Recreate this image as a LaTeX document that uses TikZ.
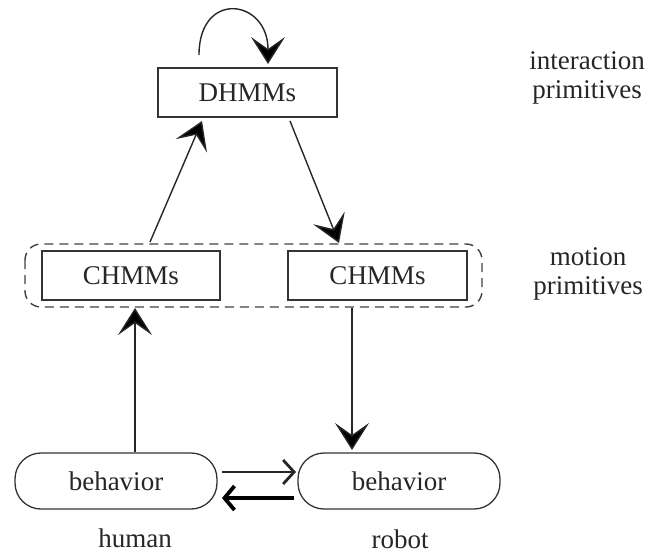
\documentclass[tikz,border=0pt]{standalone}
\usepackage{fontspec}
\setmainfont{Liberation Serif}
\usetikzlibrary{arrows.meta}
\begin{document}
\begin{tikzpicture}[x=1pt,y=-1pt,
  every node/.style={font=\fontsize{27}{29}\selectfont, text=black!85},
  hmmbox/.style={draw=black!80, line width=1.5pt, inner sep=0pt},
  behbox/.style={draw=black!80, line width=1.3pt, rounded corners=26pt, inner sep=0pt,
                 minimum width=202pt, minimum height=56pt},
  grp/.style={draw=black!75, line width=1.4pt, dash pattern=on 9pt off 6pt, rounded corners=16pt},
  arr/.style={draw=black!85, line width=1.4pt,
              -{Stealth[length=27pt,width=34pt,inset=12pt,fill=black]}},
  thinarr/.style={draw=black!85, line width=1.4pt,
              -{Straight Barb[length=11pt,width=24pt,line width=2.8pt]}},
  thickarr/.style={draw=black, line width=4pt,
              -{Straight Barb[length=10pt,width=24pt,line width=3.8pt]}},
  lbl/.style={align=center}
]
\useasboundingbox (0,0) rectangle (660,555);

% boxes
\node[hmmbox, minimum width=179pt, minimum height=49pt] (D) at (247.5,92.5) {DHMMs};
\node[hmmbox, minimum width=178pt, minimum height=49pt] (CL) at (131,275.5) {CHMMs};
\node[hmmbox, minimum width=179pt, minimum height=49pt] (CR) at (377.5,275.5) {CHMMs};
\node[behbox] (BH) at (116,481) {behavior};
\node[behbox] (BR) at (399,481) {behavior};

% group of motion primitives
\draw[grp] (25,244) rectangle (482,307);

% side labels
\node[lbl] (ip) at (587,78) {interaction\\primitives};
\node[lbl] (mp) at (588,274) {motion\\primitives};
\node (hu) at (135,538) {human};
\node (ro) at (400,539) {robot};

% self loop on DHMMs
\coordinate (ls) at (199,55);
\coordinate (le) at (268,64);
\draw[arr] (ls) to[out=90,in=90,looseness=2.4] (le);

% between levels
\coordinate (a1) at (150,242);
\coordinate (a1e) at (202,121);
\draw[arr] (a1) -- (a1e);
\coordinate (a2) at (290,121);
\coordinate (a2e) at (339,243);
\draw[arr] (a2) -- (a2e);
\coordinate (b1) at (135,452);
\coordinate (b1e) at (135,308);
\draw[arr] (b1) -- (b1e);
\coordinate (b2) at (352,308);
\coordinate (b2e) at (352,450);
\draw[arr] (b2) -- (b2e);

% exchange between behaviours
\coordinate (h1) at (222,472);
\coordinate (h1e) at (296,472);
\draw[thinarr] (h1) -- (h1e);
\coordinate (h2) at (294,498);
\coordinate (h2e) at (222,498);
\draw[thickarr] (h2) -- (h2e);
\end{tikzpicture}
\end{document}
